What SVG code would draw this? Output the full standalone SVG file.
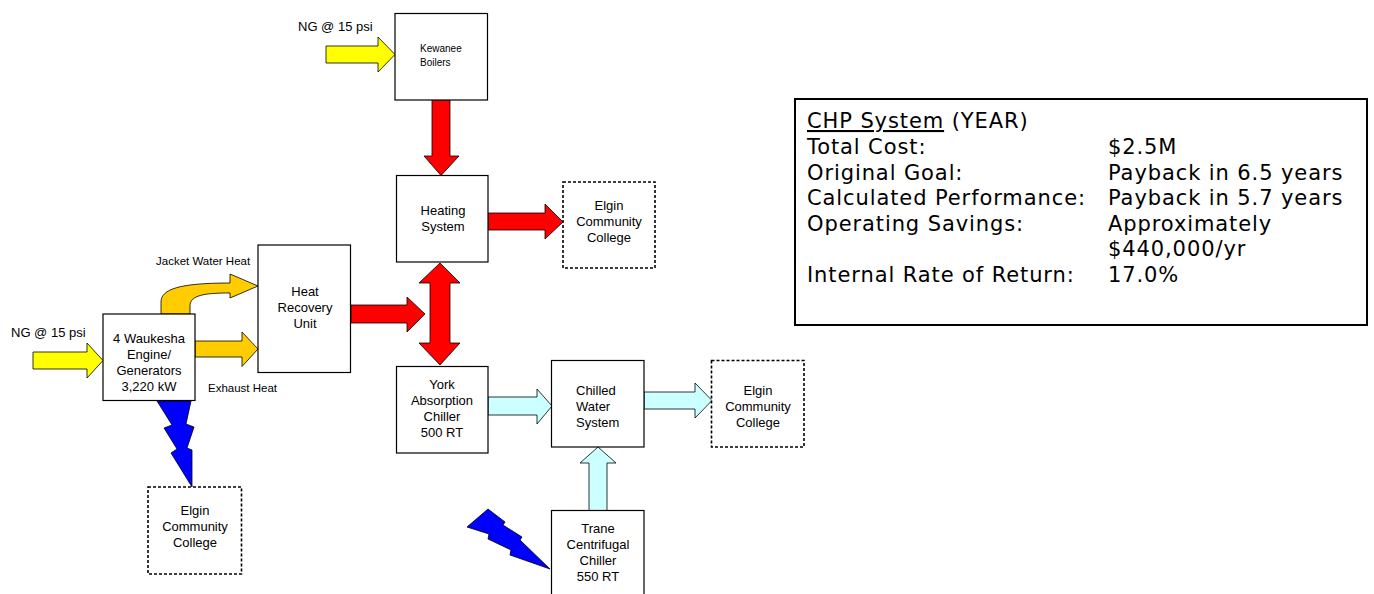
<svg xmlns="http://www.w3.org/2000/svg" width="1374" height="594" viewBox="0 0 1374 594">
<style>
.box{fill:#fff;stroke:#000;stroke-width:1.2}
.dash{fill:#fff;stroke:#000;stroke-width:1.6;stroke-dasharray:3 2}
.t{font-family:"Liberation Sans",Arial,sans-serif;font-size:13px;fill:#000}
.c{text-anchor:middle}
.s{font-size:10px}
.m{font-size:11.5px}
.y{fill:#ffff00;stroke:#000;stroke-width:0.8}
.o{fill:#ffcc00;stroke:#000;stroke-width:0.8}
.r{fill:#ff0000;stroke:#000;stroke-width:0.8}
.cy{fill:#ccffff;stroke:#000;stroke-width:0.8}
.b{fill:#0000ff;stroke:#000;stroke-width:0.8}
.chp{font-family:"DejaVu Sans",Verdana,sans-serif;font-size:21px;letter-spacing:0.9px;fill:#000}
</style>
<rect width="1374" height="594" fill="#fff"/>

<g id="connectors">
  <polygon class="y" points="326,46 378,46 378,37 395,54.5 378,72 378,63 326,63"/>
  <polygon class="y" points="33,352 87,352 87,343 103,360.5 87,378 87,369 33,369"/>
  <polygon class="o" points="195,341 242,341 242,332 258,349 242,366.5 242,357 195,357"/>
  <path class="o" d="M161,314 L161,302 C161,289 180,283 230,283 L230,274 L258,286 L230,298 L230,293 C205,293 190,295 190,306 L190,314 Z"/>
  <polygon class="r" points="432,100 450,100 450,156 459,156 441,175.5 424,156 432,156"/>
  <polygon class="r" points="488,213 545,213 545,204 563,222 545,239 545,230 488,230"/>
  <polygon class="r" points="351,305 407,305 407,297 425,314 407,332 407,323 351,323"/>
  <polygon class="r" points="440,263 460,283 450,283 450,343 460,343 440,365 419,343 430,343 430,283 419,283"/>
  <polygon class="cy" points="488,397 537,397 537,389 552,406 537,424 537,415 488,415"/>
  <polygon class="cy" points="644,392 695,392 695,383 712,400.5 695,418 695,409 644,409"/>
  <polygon class="cy" points="589,511 589,463 580,463 598,447 616,463 607,463 607,511"/>
  <polygon class="b" points="157,401 191,401 186,424 194,427 187,448 192,450 192,487 171,453 177,449 164,428 172,425"/>
  <polygon class="b" points="467,527 488,509 505,522 503,525 522,537 520,540 550,569 510,555 511,550 488,539 489,534"/>
</g>

<g id="ng-top"><text class="t" x="298" y="31">NG @ 15 psi</text></g>
<g id="ng-left"><text class="t" x="11" y="337">NG @ 15 psi</text></g>
<g id="jacket-label"><text class="t m" x="156" y="265">Jacket Water Heat</text></g>
<g id="exhaust-label"><text class="t m" x="208" y="392">Exhaust Heat</text></g>

<g id="kewanee">
  <rect class="box" x="395" y="13.5" width="92.5" height="86.5"/>
  <text class="t s" x="420" y="52">Kewanee</text>
  <text class="t s" x="420" y="66">Boilers</text>
</g>
<g id="heating">
  <rect class="box" x="396.5" y="175.5" width="91.5" height="86.5"/>
  <text class="t c" x="443" y="215">Heating</text>
  <text class="t c" x="443" y="231">System</text>
</g>
<g id="elgin-heat">
  <rect class="dash" x="563" y="182" width="92" height="86"/>
  <text class="t c" x="609" y="210">Elgin</text>
  <text class="t c" x="609" y="226">Community</text>
  <text class="t c" x="609" y="242">College</text>
</g>
<g id="hru">
  <rect class="box" x="258" y="245" width="92.5" height="127.5"/>
  <text class="t c" x="305" y="296">Heat</text>
  <text class="t c" x="305" y="312">Recovery</text>
  <text class="t c" x="305" y="328">Unit</text>
</g>
<g id="waukesha">
  <rect class="box" x="103" y="314" width="92" height="86.5"/>
  <text class="t c" x="149" y="343">4 Waukesha</text>
  <text class="t c" x="149" y="359">Engine/</text>
  <text class="t c" x="149" y="375">Generators</text>
  <text class="t c" x="149" y="391">3,220 kW</text>
</g>
<g id="elgin-power">
  <rect class="dash" x="148" y="487" width="93.5" height="87"/>
  <text class="t c" x="195" y="515">Elgin</text>
  <text class="t c" x="195" y="531">Community</text>
  <text class="t c" x="195" y="547">College</text>
</g>
<g id="york">
  <rect class="box" x="396.5" y="366.5" width="91.5" height="86.5"/>
  <text class="t c" x="442" y="389">York</text>
  <text class="t c" x="442" y="405">Absorption</text>
  <text class="t c" x="442" y="421">Chiller</text>
  <text class="t c" x="442" y="437">500 RT</text>
</g>
<g id="chilled">
  <rect class="box" x="551.5" y="360.5" width="92.5" height="86.5"/>
  <text class="t" x="576" y="395">Chilled</text>
  <text class="t" x="576" y="411">Water</text>
  <text class="t" x="576" y="427">System</text>
</g>
<g id="elgin-chilled">
  <rect class="dash" x="711.5" y="360.5" width="92.5" height="86.5"/>
  <text class="t c" x="758" y="395">Elgin</text>
  <text class="t c" x="758" y="411">Community</text>
  <text class="t c" x="758" y="427">College</text>
</g>
<g id="trane">
  <rect class="box" x="551.5" y="510.5" width="92.5" height="100"/>
  <text class="t c" x="598" y="533">Trane</text>
  <text class="t c" x="598" y="549">Centrifugal</text>
  <text class="t c" x="598" y="565">Chiller</text>
  <text class="t c" x="598" y="581">550 RT</text>
</g>

<g id="chp-summary">
  <rect x="795" y="99" width="572" height="226" fill="#fff" stroke="#000" stroke-width="2"/>
  <text class="chp" x="807" y="128"><tspan text-decoration="underline">CHP System</tspan> (YEAR)</text>
  <text class="chp" x="807" y="154">Total Cost:</text>
  <text class="chp" x="807" y="179.5">Original Goal:</text>
  <text class="chp" x="807" y="205">Calculated Performance:</text>
  <text class="chp" x="807" y="230.5">Operating Savings:</text>
  <text class="chp" x="807" y="281.5">Internal Rate of Return:</text>
  <text class="chp" x="1108" y="154">$2.5M</text>
  <text class="chp" x="1108" y="179.5">Payback in 6.5 years</text>
  <text class="chp" x="1108" y="205">Payback in 5.7 years</text>
  <text class="chp" x="1108" y="230.5">Approximately</text>
  <text class="chp" x="1108" y="256">$440,000/yr</text>
  <text class="chp" x="1108" y="281.5">17.0%</text>
</g>
</svg>
